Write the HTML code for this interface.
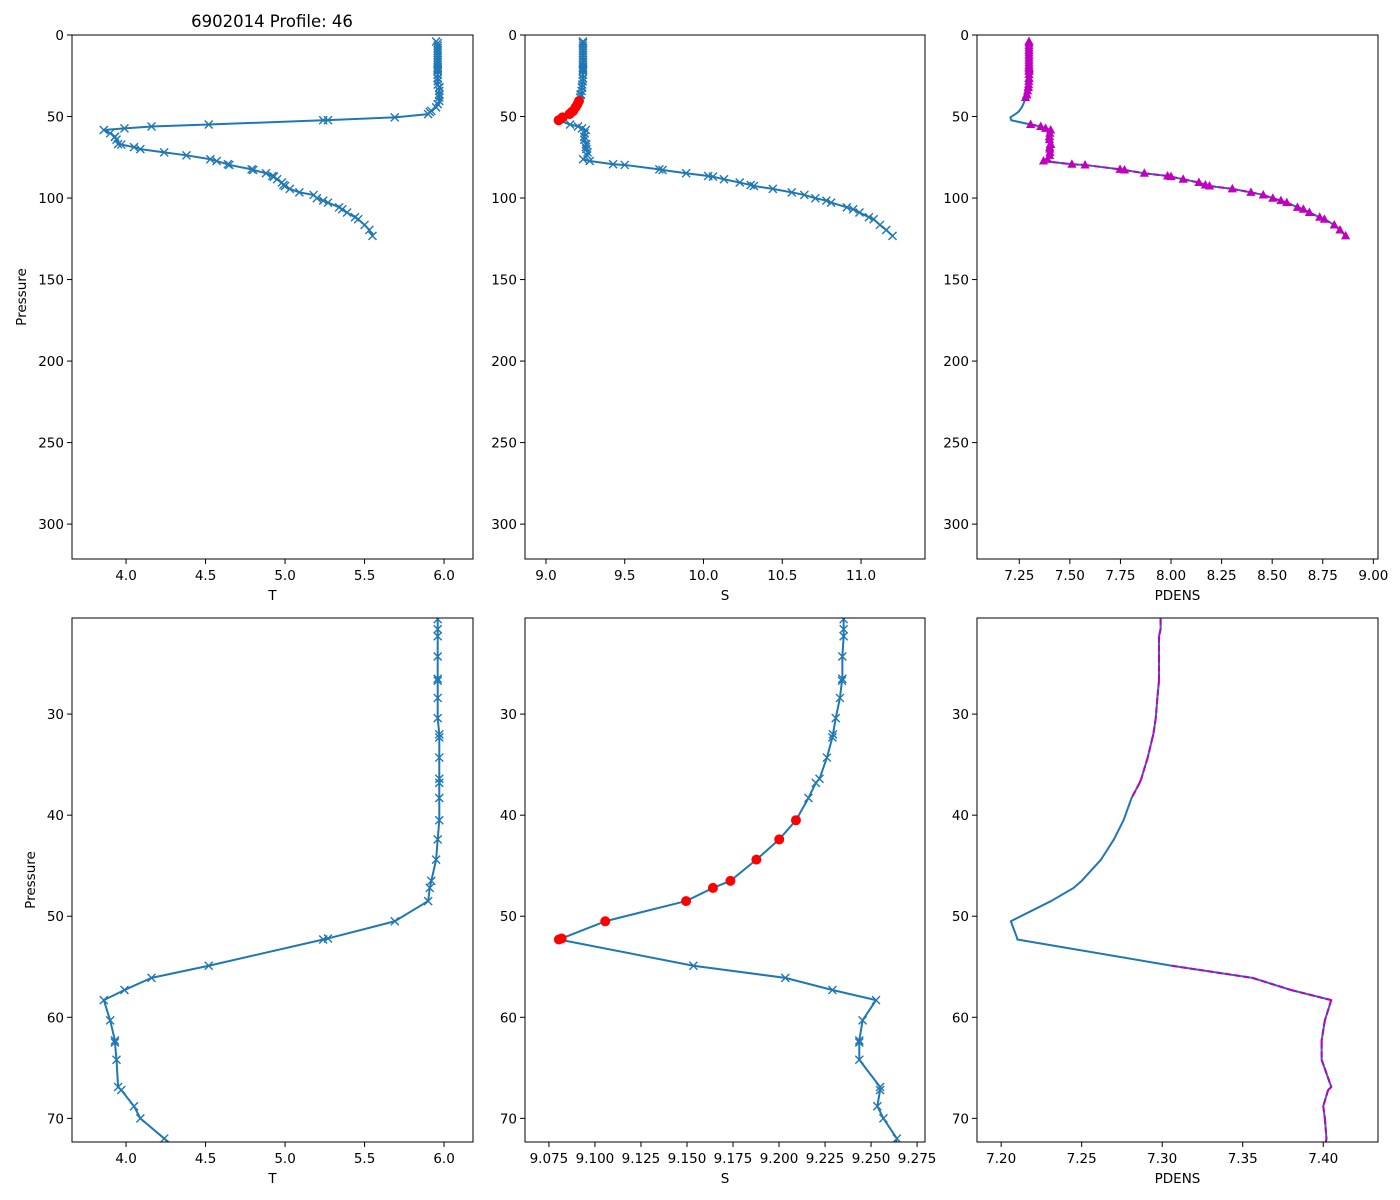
<!DOCTYPE html>
<html><head><meta charset="utf-8">
<style>
html,body{margin:0;padding:0;background:#fff;width:1400px;height:1200px;overflow:hidden;}
svg{display:block;font-family:"DejaVu Sans","Liberation Sans",sans-serif;}
</style></head>
<body>
<svg id="fig" width="1400" height="1200" viewBox="0 0 1400 1200" xmlns="http://www.w3.org/2000/svg">
<rect width="1400" height="1200" fill="#fff"/>
<text x="272" y="27" font-size="16.5" text-anchor="middle">6902014 Profile: 46</text>
</svg>
<script>
const pressure = [4,5,6.5,8,9.5,11,12.5,14,15.5,17,18.5,19.8,
 20.6,21.6,22.3,24.3,26.5,26.7,28.4,30.4,32.0,32.3,34.3,36.4,36.8,38.3,
 40.5,42.4,44.4,46.5,47.2,48.5,50.5,52.2,52.3,
 54.9,56.1,57.3,58.3,60.3,62.3,62.5,64.2,66.9,67.2,68.8,70.0,72.0,
 73.8,76.2,77.3,79.3,79.7,82.4,82.8,84.8,86.5,86.9,88.5,90.5,92.0,92.6,94.4,96.5,98.1,100.1,101.6,102.8,105.7,106.9,108.9,111.8,113.0,116.5,119.6,123.2];
const temperature = [5.95,5.96,5.96,5.96,5.96,5.96,5.96,5.96,5.96,5.96,5.96,5.96,
 5.96,5.96,5.96,5.96,5.96,5.96,5.96,5.96,5.97,5.97,5.97,5.97,5.97,5.97,
 5.97,5.96,5.95,5.92,5.91,5.90,5.69,5.27,5.24,
 4.52,4.16,3.99,3.86,3.90,3.93,3.93,3.94,3.95,3.97,4.05,4.09,4.24,
 4.38,4.53,4.57,4.64,4.65,4.79,4.80,4.88,4.92,4.93,4.95,4.98,4.99,5.00,5.03,5.09,5.18,5.20,5.24,5.27,5.34,5.36,5.39,5.44,5.46,5.50,5.53,5.55];
const salinity = [9.235,9.235,9.235,9.235,9.235,9.235,9.235,9.235,9.235,9.235,9.235,9.235,
 9.2351,9.2351,9.2351,9.2344,9.2344,9.2342,9.2331,9.2308,9.2293,9.229,9.226,9.222,9.220,9.216,
 9.2092,9.2001,9.1877,9.1736,9.1641,9.1495,9.1056,9.0819,9.0804,
 9.1535,9.2034,9.229,9.2527,9.2454,9.2436,9.2436,9.2436,9.2549,9.2549,9.2534,9.2567,9.264,
 9.262,9.236,9.278,9.426,9.50,9.72,9.74,9.89,10.03,10.06,10.13,10.23,10.30,10.32,10.44,10.56,10.64,10.71,10.78,10.81,10.91,10.95,10.99,11.05,11.08,11.12,11.16,11.20];
const pdens = [7.298,7.298,7.298,7.298,7.298,7.298,7.298,7.298,7.298,7.298,7.298,7.298,
 7.299,7.299,7.298,7.298,7.298,7.298,7.297,7.296,7.2945,7.294,7.291,7.287,7.286,7.281,
 7.276,7.270,7.262,7.250,7.245,7.231,7.206,7.210,7.210,
 7.306,7.356,7.38,7.405,7.401,7.399,7.399,7.399,7.405,7.403,7.400,7.401,7.402,
 7.40,7.39,7.37,7.51,7.575,7.748,7.77,7.868,7.983,8.00,8.06,8.138,8.17,8.19,8.303,8.395,8.456,8.503,8.543,8.572,8.625,8.654,8.684,8.735,8.758,8.807,8.835,8.863];
const flagged = pressure.map((p,i)=> i>=26 && i<=34);
const ticksT = [4.0,4.5,5.0,5.5,6.0];
const ticksS = [9.0,9.5,10.0,10.5,11.0];
const ticksD = [7.25,7.50,7.75,8.00,8.25,8.50,8.75,9.00];
const ticksP = [0,50,100,150,200,250,300];
const ticksSz = [9.075,9.100,9.125,9.150,9.175,9.200,9.225,9.250,9.275];
const ticksDz = [7.20,7.25,7.30,7.35,7.40];
const ticksPz = [30,40,50,60,70];

const NS='http://www.w3.org/2000/svg';
const svg=document.getElementById('fig');
const BLUE='#1f77b4';
function mk(tag,attrs,parent){const e=document.createElementNS(NS,tag);for(const k in attrs)e.setAttribute(k,attrs[k]);(parent||svg).appendChild(e);return e;}

function panel(cfg){
  const g=mk('g',{});
  
  
  const sx=v=>cfg.x0+(v-cfg.xmin)/(cfg.xmax-cfg.xmin)*cfg.w;
  const sy=v=>cfg.y0+(v-cfg.ymin)/(cfg.ymax-cfg.ymin)*cfg.h;
  const cid='clip-'+cfg.name;
  const cp=mk('clipPath',{id:cid},g);
  mk('rect',{x:cfg.x0,y:cfg.y0,width:cfg.w,height:cfg.h},cp);
  const plot=mk('g',{'clip-path':'url(#'+cid+')'},g);
  
  
  const fr=mk('rect',{x:cfg.x0,y:cfg.y0,width:cfg.w,height:cfg.h,fill:'none',stroke:'#000','stroke-width':1});
  
  
  const bottom=cfg.y0+cfg.h;
  cfg.xticks.forEach(t=>{
    const x=sx(t);
    mk('line',{x1:x,x2:x,y1:bottom,y2:bottom+5,stroke:'#000','stroke-width':1});
    const tx=mk('text',{x:x,y:bottom+21,'font-size':13.5,'text-anchor':'middle'});
    tx.textContent=t.toFixed(cfg.xdec);
    
    
  });
  cfg.yticks.forEach(t=>{
    const y=sy(t);
    mk('line',{x1:cfg.x0-5,x2:cfg.x0,y1:y,y2:y,stroke:'#000','stroke-width':1});
    const tx=mk('text',{x:cfg.x0-8,y:y+5,'font-size':13.5,'text-anchor':'end'});
    tx.textContent=String(t);
    
    
  });
  const xl=mk('text',{x:cfg.x0+cfg.w/2,y:bottom+41,'font-size':13.5,'text-anchor':'middle'});
  xl.textContent=cfg.xlabel;
  
  
  if(cfg.ylabel){
    const yl=mk('text',{x:0,y:0,'font-size':13.5,'text-anchor':'middle',transform:`translate(${cfg.ylx},${cfg.y0+cfg.h/2}) rotate(-90)`});
    yl.textContent=cfg.ylabel;
    
    
  }
  const vals=cfg.values;
  const pts=pressure.map((p,i)=>sx(vals[i]).toFixed(2)+','+sy(p).toFixed(2)).join(' ');
  const ln=mk('polyline',{points:pts,fill:'none',stroke:BLUE,'stroke-width':2,'stroke-linejoin':'round'},plot);
  
  
  if(cfg.kind==='cross'){
    pressure.forEach((p,i)=>{
      const x=sx(vals[i]),y=sy(p);
      if(cfg.red && flagged[i]){
        const c=mk('circle',{cx:x,cy:y,r:5,fill:'#ff0000'},plot);
        
        
      } else {
        const d=4;
        const m=mk('path',{d:`M${x-d},${y-d}L${x+d},${y+d}M${x-d},${y+d}L${x+d},${y-d}`,stroke:BLUE,'stroke-width':1.4,fill:'none'},plot);
        
        
      }
    });
  } else {
    for(let i=0;i<pressure.length-1;i++){
      if(flagged[i]||flagged[i+1]) continue;
      const s=mk('line',{x1:sx(vals[i]),y1:sy(pressure[i]),x2:sx(vals[i+1]),y2:sy(pressure[i+1]),stroke:'#bf00bf','stroke-width':2,'stroke-dasharray':'6,3'},plot);
      
      
    }
    if(cfg.triangles){
      pressure.forEach((p,i)=>{
        if(flagged[i]) return;
        const x=sx(vals[i]),y=sy(p);
        const tr=mk('path',{d:`M${x},${y-5}L${x+4.6},${y+3.5}L${x-4.6},${y+3.5}Z`,fill:'#bf00bf'},plot);
        
        
      });
    }
  }
}

const TOP=35,BOT=618,H=524;
panel({name:'temperature-full',x0:72,y0:TOP,w:401,h:H,xmin:3.66,xmax:6.182,ymin:0,ymax:321.4,xticks:ticksT,xdec:1,yticks:ticksP,xlabel:'T',ylabel:'Pressure',ylx:26,values:temperature,kind:'cross',red:false});
panel({name:'salinity-full',x0:525,y0:TOP,w:400,h:H,xmin:8.867,xmax:11.406,ymin:0,ymax:321.4,xticks:ticksS,xdec:1,yticks:ticksP,xlabel:'S',values:salinity,kind:'cross',red:true});
panel({name:'pdens-full',x0:977,y0:TOP,w:401,h:H,xmin:7.041,xmax:9.023,ymin:0,ymax:321.4,xticks:ticksD,xdec:2,yticks:ticksP,xlabel:'PDENS',values:pdens,kind:'dens',triangles:true});
panel({name:'temperature-zoom',x0:72,y0:BOT,w:401,h:H,xmin:3.66,xmax:6.182,ymin:20.49,ymax:72.34,xticks:ticksT,xdec:1,yticks:ticksPz,xlabel:'T',ylabel:'Pressure',ylx:35,values:temperature,kind:'cross',red:false});
panel({name:'salinity-zoom',x0:525,y0:BOT,w:400,h:H,xmin:9.062,xmax:9.2793,ymin:20.49,ymax:72.34,xticks:ticksSz,xdec:3,yticks:ticksPz,xlabel:'S',values:salinity,kind:'cross',red:true});
panel({name:'pdens-zoom',x0:977,y0:BOT,w:401,h:H,xmin:7.185,xmax:7.434,ymin:20.49,ymax:72.34,xticks:ticksDz,xdec:2,yticks:ticksPz,xlabel:'PDENS',values:pdens,kind:'dens',triangles:false});
</script>
</body></html>
